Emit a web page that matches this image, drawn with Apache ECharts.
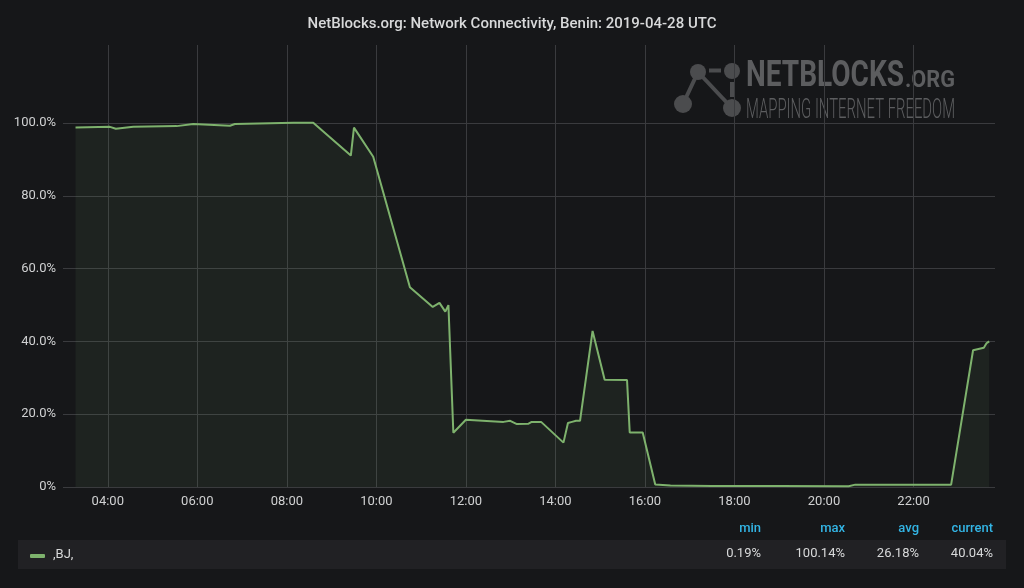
<!DOCTYPE html>
<html><head><meta charset="utf-8">
<script src="https://cdn.jsdelivr.net/npm/echarts@6/dist/echarts.min.js"></script>
<style>html,body{margin:0;padding:0;background:#161719;}#c{width:1024px;height:588px;}</style>
</head><body><div id="c"></div>
<script>
const titleText = 'NetBlocks.org: Network Connectivity, Benin: 2019-04-28 UTC';
// hour of day (UTC, decimal) and connectivity (%)
const hours = [3.28, 4.05, 4.18, 4.57, 5.54, 5.91, 6.73, 6.84, 8.15, 8.59, 9.43, 9.50, 9.93,
  10.75, 11.26, 11.41, 11.54, 11.61, 11.72, 12.00, 12.84, 12.88, 12.99, 13.14, 13.40, 13.47,
  13.68, 14.18, 14.28, 14.37, 14.40, 14.46, 14.55, 14.83, 15.10, 15.60, 15.66, 15.95, 16.23,
  16.57, 17.50, 19.00, 20.55, 20.70, 21.50, 22.84, 23.33, 23.57, 23.63, 23.69];
const connectivity = [98.8, 99.0, 98.5, 99.0, 99.2, 99.8, 99.3, 99.8, 100.14, 100.1, 91.1, 98.8, 90.8,
  54.9, 49.5, 50.6, 48.2, 50.0, 14.9, 18.5, 17.9, 17.4, 18.2, 17.3, 17.4, 17.9,
  17.9, 12.2, 17.6, 17.9, 17.4, 18.2, 18.2, 42.9, 29.5, 29.4, 15.0, 15.0, 0.7,
  0.4, 0.3, 0.3, 0.19, 0.65, 0.65, 0.65, 37.6, 38.3, 39.5, 40.04];
const xTickHours = [4, 6, 8, 10, 12, 14, 16, 18, 20, 22];
const yTickValues = [0, 20, 40, 60, 80, 100];
const seriesName = ',BJ,';
const statLabels = ['min', 'max', 'avg', 'current'];
const statValues = ['0.19%', '100.14%', '26.18%', '40.04%'];

const chart = echarts.init(document.getElementById('c'), null, {renderer: 'canvas'});

const mctx = document.createElement('canvas').getContext('2d');
function fitScale(text, font, width) { mctx.font = font; return width / mctx.measureText(text).width; }

const iconColor = '#4b4c4e';
const logoColor = '#5c5d5f';
const f1 = 'bold 36px Roboto', f2 = 'bold 23px Roboto', f3 = '300 27px Roboto';
const graphic = [
  {type: 'line', shape: {x1: 683, y1: 104, x2: 698, y2: 72}, style: {stroke: iconColor, lineWidth: 4}},
  {type: 'line', shape: {x1: 698, y1: 72, x2: 730, y2: 106}, style: {stroke: iconColor, lineWidth: 4}},
  {type: 'line', shape: {x1: 709, y1: 70.5, x2: 721, y2: 70.5}, style: {stroke: iconColor, lineWidth: 4}},
  {type: 'line', shape: {x1: 732, y1: 82, x2: 732, y2: 97}, style: {stroke: iconColor, lineWidth: 4}},
  {type: 'circle', shape: {cx: 698, cy: 72, r: 8}, style: {fill: iconColor}},
  {type: 'circle', shape: {cx: 732, cy: 71, r: 8}, style: {fill: iconColor}},
  {type: 'circle', shape: {cx: 683, cy: 104, r: 9}, style: {fill: iconColor}},
  {type: 'circle', shape: {cx: 732, cy: 108, r: 9}, style: {fill: iconColor}},
  {type: 'text', x: 746, y: 77, scaleX: fitScale('NETBLOCKS', f1, 158),
   style: {text: 'NETBLOCKS', font: f1, fill: logoColor, align: 'left', verticalAlign: 'middle'}},
  {type: 'text', x: 905, y: 81, scaleX: fitScale('.ORG', f2, 50),
   style: {text: '.ORG', font: f2, fill: logoColor, align: 'left', verticalAlign: 'middle'}},
  {type: 'text', x: 746, y: 111, scaleX: fitScale('MAPPING INTERNET FREEDOM', f3, 209),
   style: {text: 'MAPPING INTERNET FREEDOM', font: f3, fill: logoColor, align: 'left', verticalAlign: 'middle'}},
  // legend table
  {type: 'rect', shape: {x: 18, y: 540, width: 988, height: 29}, style: {fill: '#212124'}},
  {type: 'rect', shape: {x: 30, y: 554, width: 15, height: 4, r: 1}, style: {fill: '#7eb26d'}},
  {type: 'text', x: 53, y: 555, style: {text: seriesName, font: '13px Roboto', fill: '#d8d9da', align: 'left', verticalAlign: 'middle'}}
];
const colRight = [761, 845, 919, 993];
statLabels.forEach((s, i) => {
  graphic.push({type: 'text', x: colRight[i], y: 529, style: {text: s, font: '500 13px Roboto', fill: '#33b5e5', align: 'right', verticalAlign: 'middle'}});
  graphic.push({type: 'text', x: colRight[i], y: 554, style: {text: statValues[i], font: '13px Roboto', fill: '#d8d9da', align: 'right', verticalAlign: 'middle'}});
});

const pad = n => (n < 10 ? '0' : '') + n;
chart.setOption({
  animation: false,
  backgroundColor: '#161719',
  textStyle: {fontFamily: 'Roboto'},
  title: {text: titleText, left: 'center', top: 12,
    textStyle: {color: '#d8d9da', fontSize: 15, fontWeight: 500, fontFamily: 'Roboto'}},
  grid: {left: 63, right: 29, top: 45, bottom: 101, containLabel: false},
  xAxis: {
    type: 'value', min: 3.0, max: 23.82,
    axisLine: {show: false},
    axisTick: {show: false, customValues: xTickHours},
    axisLabel: {customValues: xTickHours, formatter: v => pad(v) + ':00', color: '#d0d1d2', fontSize: 13, margin: 8},
    splitLine: {show: true, lineStyle: {color: '#3a3b3e', width: 1}}
  },
  yAxis: {
    type: 'value', min: 0, max: 121.5,
    axisLine: {show: false},
    axisTick: {show: false, customValues: yTickValues},
    axisLabel: {customValues: yTickValues, formatter: v => v === 0 ? '0%' : v.toFixed(1) + '%', color: '#d0d1d2', fontSize: 13, margin: 7},
    splitLine: {show: true, lineStyle: {color: '#3a3b3e', width: 1}}
  },
  series: [{
    name: seriesName, type: 'line', showSymbol: false, symbol: 'none',
    data: hours.map((h, i) => [h, connectivity[i]]),
    lineStyle: {color: '#7eb26d', width: 2},
    itemStyle: {color: '#7eb26d'},
    areaStyle: {color: 'rgba(126,178,109,0.11)'}
  }],
  graphic: graphic
});
</script></body></html>
